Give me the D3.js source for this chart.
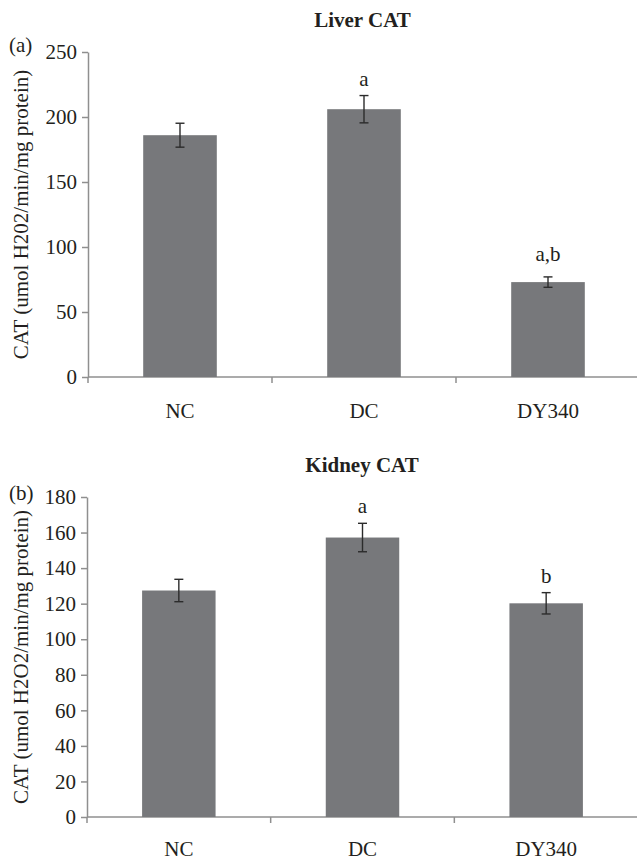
<!DOCTYPE html>
<html>
<head>
<meta charset="utf-8">
<script src="https://cdn.jsdelivr.net/npm/d3@7"></script>
<style>
  body { margin: 0; background: #fff; }
  text { font-family: "Liberation Serif", "Times New Roman", serif; fill: #231f20; }
</style>
</head>
<body>
<div id="grafico"></div>
<script>
// Datos
var categories = ["NC", "DC", "DY340"];

var liverMean = [186, 206, 73];
var liverErr = [9.2, 10.5, 4];
var liverSig = ["", "a", "a,b"];
var liverTicks = [0, 50, 100, 150, 200, 250];

var kidneyMean = [127.4, 157.2, 120.2];
var kidneyErr = [6.3, 8, 6];
var kidneySig = ["", "a", "b"];
var kidneyTicks = [0, 20, 40, 60, 80, 100, 120, 140, 160, 180];

var W = 637, H = 861;

var svg = d3.select("#grafico")
  .append("svg")
    .attr("width", W)
    .attr("height", H);

function panel(opt) {
  var g = svg.append("g");

  var x = d3.scaleBand()
    .domain(categories)
    .range([opt.left, opt.right]);

  var y = d3.scaleLinear()
    .domain([0, d3.max(opt.ticks)])
    .range([opt.bottom, opt.top]);

  var bw = x.bandwidth();

  // Eje Y
  g.append("g")
    .attr("transform", "translate(" + opt.left + ",0)")
    .call(d3.axisLeft(y).tickValues(opt.ticks).tickSize(6).tickPadding(5).tickSizeOuter(0))
    .call(function(a) {
      a.attr("font-family", null).attr("font-size", null);
      a.select(".domain").attr("stroke", "#8f8f8f").attr("stroke-width", 1.5);
      a.selectAll(".tick line").attr("stroke", "#8f8f8f").attr("stroke-width", 1.5);
      a.selectAll(".tick text")
        .style("font-family", "Liberation Serif")
        .style("font-size", "21px")
        .attr("fill", "#231f20");
    });

  // Eje X (ticks entre categorias, estilo Excel)
  g.append("line")
    .attr("x1", opt.left).attr("x2", opt.right)
    .attr("y1", opt.bottom).attr("y2", opt.bottom)
    .attr("stroke", "#8f8f8f").attr("stroke-width", 1.5);

  var bounds = categories.map(function(c) { return x(c); }).concat([x(categories[categories.length - 1]) + bw]);
  g.selectAll(".xtick")
    .data(bounds)
    .enter().append("line")
    .attr("x1", function(d) { return d; })
    .attr("x2", function(d) { return d; })
    .attr("y1", opt.bottom)
    .attr("y2", opt.bottom + 6)
    .attr("stroke", "#8f8f8f").attr("stroke-width", 1.5);

  g.selectAll(".xlab")
    .data(categories)
    .enter().append("text")
    .attr("x", function(d) { return x(d) + bw / 2; })
    .attr("y", opt.bottom + opt.catDy)
    .attr("text-anchor", "middle")
    .style("font-size", "21px")
    .text(function(d) { return d; });

  // Barras
  g.selectAll(".bar")
    .data(opt.mean)
    .enter().append("rect")
    .attr("x", function(d, i) { return x(categories[i]) + bw * 0.3; })
    .attr("width", bw * 0.4)
    .attr("y", function(d) { return y(d); })
    .attr("height", function(d) { return y(0) - y(d); })
    .attr("fill", "#77787b");

  // Barras de error
  var eb = g.selectAll(".err")
    .data(opt.mean)
    .enter().append("g")
    .attr("stroke", "#2b2b2b")
    .attr("stroke-width", 1.4);

  eb.append("line")
    .attr("x1", function(d, i) { return x(categories[i]) + bw / 2; })
    .attr("x2", function(d, i) { return x(categories[i]) + bw / 2; })
    .attr("y1", function(d, i) { return y(d + opt.err[i]); })
    .attr("y2", function(d, i) { return y(d - opt.err[i]); });

  [1, -1].forEach(function(s) {
    eb.append("line")
      .attr("x1", function(d, i) { return x(categories[i]) + bw / 2 - 4.5; })
      .attr("x2", function(d, i) { return x(categories[i]) + bw / 2 + 4.5; })
      .attr("y1", function(d, i) { return y(d + s * opt.err[i]); })
      .attr("y2", function(d, i) { return y(d + s * opt.err[i]); });
  });

  // Letras de significancia
  g.selectAll(".sig")
    .data(opt.mean)
    .enter().append("text")
    .attr("x", function(d, i) { return x(categories[i]) + bw / 2; })
    .attr("y", function(d, i) { return y(d + opt.err[i]) - (opt.sig[i].length > 1 ? 16 : 10); })
    .attr("text-anchor", "middle")
    .style("font-size", "21px")
    .text(function(d, i) { return opt.sig[i]; });

  // Titulo
  g.append("text")
    .attr("x", (opt.left + 637) / 2)
    .attr("y", opt.top - 25)
    .attr("text-anchor", "middle")
    .style("font-size", "21px")
    .style("font-weight", "bold")
    .text(opt.title);

  // Letra del panel
  g.append("text")
    .attr("x", 9)
    .attr("y", opt.top + opt.tagDy)
    .style("font-size", "21px")
    .text(opt.tag);

  // Etiqueta eje Y
  g.append("text")
    .attr("transform", "rotate(-90)")
    .attr("x", -(opt.top + opt.bottom) / 2)
    .attr("y", 28)
    .attr("text-anchor", "middle")
    .style("font-size", "21px")
    .text(opt.ylabel);
}

panel({
  left: 88, right: 640, top: 52, bottom: 377, catDy: 41,
  ticks: liverTicks, mean: liverMean, err: liverErr, sig: liverSig,
  title: "Liver CAT", tag: "(a)", tagDy: 0,
  ylabel: "CAT (umol H202/min/mg protein)"
});

panel({
  left: 87, right: 638, top: 497, bottom: 817, catDy: 39,
  ticks: kidneyTicks, mean: kidneyMean, err: kidneyErr, sig: kidneySig,
  title: "Kidney CAT", tag: "(b)", tagDy: 3,
  ylabel: "CAT (umol H2O2/min/mg protein)"
});
</script>
</body>
</html>
